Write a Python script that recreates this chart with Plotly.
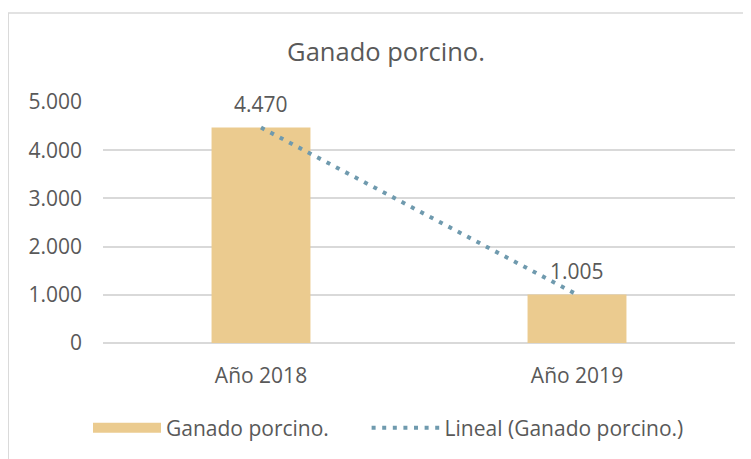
import numpy as np
import plotly.graph_objects as go

categories = ["Año 2018", "Año 2019"]
values = [4470, 1005]
series_name = "Ganado porcino."
trend_name = "Lineal (Ganado porcino.)"
title_text = "Ganado porcino."

BAR = "#EBCB8F"
TREND = "#6F9AAE"
TXT = "#595959"
GRID = "#D9D9D9"
FONT = "Open Sans"

# linear trendline computed from the data
idx = np.arange(len(values))
slope, intercept = np.polyfit(idx, values, 1)
trend = (slope * idx + intercept).tolist()

fig = go.Figure()
fig.add_trace(go.Bar(x=categories, y=values, marker=dict(color=BAR, line=dict(width=0)),
                     showlegend=False, hoverinfo="skip"))
fig.add_trace(go.Scatter(x=categories, y=trend, mode="lines", name=trend_name,
                         line=dict(color=TREND, width=4, dash="4px,6.6px"), showlegend=False))
# legend entries (non-breaking spaces widen the gap between the two entries)
fig.add_trace(go.Scatter(x=[None], y=[None], mode="lines", name=series_name + "\u00a0" * 6,
                         line=dict(color=BAR, width=14)))
fig.add_trace(go.Scatter(x=[None], y=[None], mode="lines", name=trend_name,
                         line=dict(color=TREND, width=4, dash="4px,6.6px")))

for c, v in zip(categories, values):
    fig.add_annotation(x=c, y=v, text=f"{v:,}".replace(",", "."), showarrow=False,
                       yanchor="middle", yshift=24, font=dict(family=FONT, size=21, color=TXT))

fig.add_shape(type="rect", xref="paper", yref="paper", x0=-0.150, x1=1.06, y0=-0.6, y1=1.369,
              line=dict(color=GRID, width=1.5), fillcolor="rgba(0,0,0,0)", layer="below")

W, H = 743, 451
fig.update_layout(
    width=W, height=H,
    margin=dict(l=95, r=16, t=94, b=116, autoexpand=False),
    paper_bgcolor="white", plot_bgcolor="white",
    separators=",.",
    bargap=0.687,
    font=dict(family=FONT, size=21, color=TXT),
    title=dict(text=title_text, x=378 / W, xref="container", y=1 - 44 / H, yref="container",
               xanchor="center", yanchor="middle", font=dict(family=FONT, size=25.5, color=TXT)),
    xaxis=dict(showgrid=False, showline=False, ticks="", ticklabelstandoff=18,
               tickfont=dict(family=FONT, size=21, color=TXT)),
    yaxis=dict(range=[0, 5000], dtick=1000, tickformat=",d", showgrid=True, gridcolor=GRID,
               gridwidth=1.5, zeroline=True, zerolinecolor=GRID, zerolinewidth=1.5,
               showline=False, ticks="", ticklabelstandoff=20,
               tickfont=dict(family=FONT, size=21, color=TXT)),
    legend=dict(orientation="h", xref="container", yref="container",
                x=80 / W, xanchor="left", y=1 - 420 / H, yanchor="middle",
                itemwidth=68,
                font=dict(family=FONT, size=21, color=TXT),
                bgcolor="rgba(0,0,0,0)", traceorder="normal"),
    hovermode=False,
)

fig.write_html("out.html")
